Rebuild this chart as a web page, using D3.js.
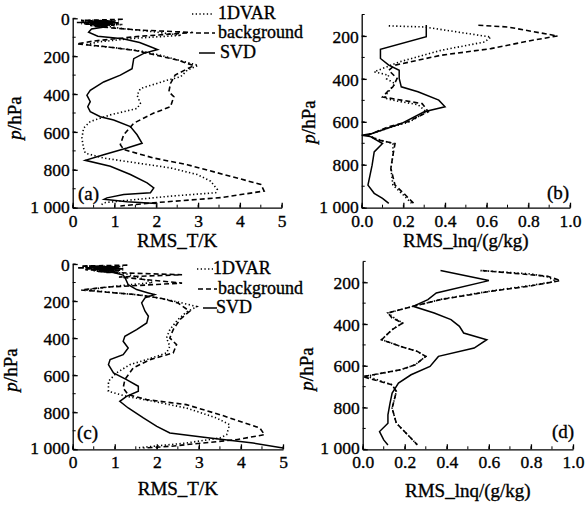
<!DOCTYPE html>
<html>
<head>
<meta charset="utf-8">
<script src="https://cdn.jsdelivr.net/npm/d3@7"></script>
<style>
	body { margin: 0; background: #fff; }
	svg { display: block; }
	text { font-family: "Liberation Serif", "Times New Roman", serif; fill: #000; stroke: #000; stroke-width: 0.35; }
	.tick line, .domain { stroke: #000; stroke-width: 1.3; }
</style>
</head>
<body>
<svg id="chart" width="586" height="505"></svg>
<script>
// ---- data: [pressure hPa, RMS] ----
var seriesNames = ["1DVAR", "background", "SVD"];

// (a) temperature RMS, case 1
var tempA_1dvar = [[10,0.2],[14,1.1],[19,0.3],[23,1.0],[28,0.2],[33,1.2],[38,0.4],[44,0.9],[55,1.2],[70,1.9],[90,2.6],[105,1.5],[125,0.6],[140,0.3],[155,1.0],[175,1.7],[195,2.1],[225,2.6],[248,3.0],[274,2.74],[309,2.58],[327,2.26],[371,1.62],[406,1.54],[449,1.62],[476,1.54],[510,0.9],[545,0.42],[580,0.26],[633,0.22],[685,0.26],[712,0.3],[738,0.74],[764,1.54],[790,2.34],[825,2.98],[860,3.3],[904,3.46],[921,3.42],[939,2.34],[956,1.54],[974,0.74],[990,0.66]];
var tempA_background = [[5,1.2],[12,0.2],[17,1.0],[22,0.1],[27,1.1],[31,0.3],[36,1.0],[42,0.5],[50,0.9],[62,1.6],[75,2.88],[95,1.6],[120,0.5],[135,0.1],[150,0.8],[170,1.5],[190,1.9],[220,2.5],[250,2.9],[267,2.74],[300,2.45],[344,2.34],[388,2.3],[414,2.42],[467,2.34],[500,1.94],[554,1.46],[615,1.22],[667,1.14],[693,1.22],[738,1.94],[773,2.74],[825,3.62],[877,4.5],[912,4.58],[947,3.54],[974,1.94],[991,1.14]];
var tempA_svd = [[12,0.5],[16,1.0],[20,0.3],[24,1.1],[28,0.4],[33,0.9],[38,0.5],[45,0.8],[56,0.45],[73,0.38],[95,0.6],[108,1.2],[128,1.6],[150,1.86],[165,2.03],[185,1.7],[213,1.46],[266,1.42],[300,1.14],[336,0.74],[380,0.42],[406,0.34],[440,0.42],[467,0.36],[493,0.42],[520,0.66],[537,0.98],[572,1.38],[615,1.54],[660,1.66],[685,1.3],[720,0.74],[750,0.3],[781,0.9],[825,1.38],[869,1.78],[895,1.94],[921,1.86],[930,1.22],[948,0.82],[956,0.75],[968,1.3],[978,2.0]];

// (b) humidity RMS, case 1
var humB_1dvar = [[153,0.13],[158,0.30],[205,0.62],[228,0.59],[267,0.38],[321,0.18],[367,0.06],[383,0.13],[400,0.12],[422,0.16],[445,0.14],[470,0.12],[490,0.11],[505,0.18],[520,0.27],[553,0.31],[600,0.23],[625,0.14],[654,0.05],[662,0.02],[685,0.09],[701,0.15],[755,0.15],[817,0.14],[895,0.15],[941,0.20],[980,0.24]];
var humB_background = [[150,0.56],[158,0.70],[200,0.94],[220,0.82],[259,0.62],[290,0.38],[336,0.16],[360,0.13],[398,0.17],[437,0.15],[453,0.13],[484,0.10],[499,0.19],[515,0.29],[553,0.32],[600,0.22],[623,0.13],[654,0.05],[662,0.03],[685,0.08],[701,0.16],[755,0.15],[817,0.14],[895,0.16],[941,0.21],[980,0.25]];
var humB_svd = [[149,0.31],[203,0.31],[262,0.09],[305,0.09],[336,0.13],[360,0.18],[398,0.18],[437,0.19],[460,0.27],[499,0.37],[530,0.40],[553,0.30],[608,0.19],[654,0.05],[662,0.0],[668,0.04],[701,0.10],[740,0.06],[802,0.05],[848,0.04],[895,0.03],[933,0.06],[957,0.10],[980,0.13]];

// (c) temperature RMS, case 2
var tempC_1dvar = [[10,0.3],[14,1.2],[18,0.2],[23,1.1],[28,0.3],[33,1.2],[38,0.5],[44,1.0],[55,1.3],[75,1.6],[100,1.9],[120,1.0],[140,0.3],[155,1.0],[170,1.7],[190,2.2],[210,2.6],[230,2.95],[260,2.7],[300,2.5],[354,2.31],[399,2.23],[444,2.31],[480,2.23],[516,1.76],[543,1.36],[588,1.04],[633,0.85],[687,0.85],[714,1.28],[741,1.91],[777,2.7],[831,3.42],[867,3.73],[921,3.66],[939,3.5],[966,2.7],[984,1.91],[993,1.52]];
var tempC_background = [[6,1.3],[11,0.2],[16,1.1],[21,0.1],[26,1.2],[31,0.3],[37,1.1],[45,0.8],[58,2.6],[70,1.1],[103,2.6],[125,0.8],[140,0.2],[150,0.7],[165,1.5],[185,2.1],[210,2.5],[255,2.78],[300,2.55],[354,2.39],[399,2.31],[435,2.47],[480,2.39],[516,1.84],[561,1.44],[624,1.24],[669,1.2],[705,1.32],[732,1.76],[759,2.7],[813,3.5],[885,4.45],[921,4.56],[948,3.89],[966,3.1],[984,2.31],[993,1.68]];
var tempC_svd = [[12,0.4],[16,1.1],[20,0.3],[25,1.2],[30,0.5],[35,1.0],[40,0.6],[46,0.97],[60,1.2],[76,1.25],[112,1.32],[138,1.52],[156,1.8],[165,1.95],[183,1.72],[210,1.64],[255,1.72],[282,1.8],[318,1.76],[354,1.52],[390,1.24],[417,1.2],[453,1.32],[489,1.2],[516,0.89],[543,0.85],[588,0.97],[624,1.28],[660,1.56],[687,1.56],[714,1.28],[741,1.12],[777,1.32],[831,1.68],[876,2.0],[912,2.31],[939,3.26],[966,4.29],[993,5.0]];

// (d) humidity RMS, case 2
var humD_1dvar = [[144,0.56],[160,0.80],[175,0.88],[195,0.92],[215,0.80],[240,0.62],[280,0.38],[315,0.24],[347,0.12],[371,0.15],[395,0.19],[427,0.14],[475,0.09],[507,0.18],[531,0.26],[555,0.30],[595,0.25],[619,0.18],[650,0.02],[691,0.14],[723,0.16],[803,0.14],[875,0.16],[947,0.23],[979,0.26]];
var humD_background = [[144,0.57],[171,0.88],[192,0.94],[219,0.79],[243,0.61],[283,0.37],[315,0.24],[347,0.12],[371,0.14],[395,0.19],[427,0.14],[475,0.09],[507,0.18],[531,0.26],[555,0.30],[595,0.25],[619,0.18],[652,0.0],[691,0.14],[723,0.16],[803,0.14],[875,0.16],[947,0.23],[979,0.26]];
var humD_svd = [[144,0.37],[192,0.60],[251,0.35],[283,0.31],[315,0.24],[347,0.34],[379,0.42],[411,0.46],[443,0.48],[475,0.59],[515,0.53],[555,0.36],[603,0.32],[643,0.23],[683,0.17],[731,0.14],[779,0.13],[835,0.12],[875,0.12],[915,0.08],[955,0.10],[979,0.12]];

// axis ticks
var pTicksFull = [0, 200, 400, 600, 800, 1000];
var pTicksUpper = [200, 400, 600, 800, 1000];
var tTicks = [0, 1, 2, 3, 4, 5];
var qTicks = [0, 0.2, 0.4, 0.6, 0.8, 1.0];

// line style per series (dotted / dashed / solid)
var dashFor = { "1DVAR": "1.3,2.4", "background": "5,3", "SVD": null };

var svg = d3.select("#chart");

/**
 * Draw one profile panel.
 * @param {object} cfg box, domains, ticks, series, labels
 */
function drawPanel(cfg) {
	var x = d3.scaleLinear().domain(cfg.xDomain).range([cfg.left, cfg.right]);
	var y = d3.scaleLinear().domain(cfg.pDomain).range([cfg.top, cfg.bottom]);
	var g = svg.append("g");

	// minor ticks first so the major ones sit over them
	var xMinor = d3.range(cfg.xDomain[0], cfg.xDomain[1] + 1e-9, cfg.xMinorStep);
	var pMinor = d3.range(cfg.pDomain[0], cfg.pDomain[1] + 1, 100);
	g.selectAll("line.xm").data(xMinor).enter().append("line")
		.attr("x1", function (d) { return x(d); }).attr("x2", function (d) { return x(d); })
		.attr("y1", cfg.bottom).attr("y2", cfg.bottom - 3)
		.attr("stroke", "#000").attr("stroke-width", 1);
	g.selectAll("line.pm").data(pMinor).enter().append("line")
		.attr("x1", cfg.left).attr("x2", cfg.left + 3)
		.attr("y1", function (d) { return y(d); }).attr("y2", function (d) { return y(d); })
		.attr("stroke", "#000").attr("stroke-width", 1);

	var xAxis = d3.axisBottom(x).tickValues(cfg.xTicks).tickSizeInner(-5).tickSizeOuter(0).tickPadding(6)
		.tickFormat(cfg.xFormat);
	var yAxis = d3.axisLeft(y).tickValues(cfg.pTicks).tickSizeInner(-5).tickSizeOuter(0).tickPadding(3)
		.tickFormat(function (d) { return d === 1000 ? "1 000" : d; });

	g.append("g").attr("transform", "translate(0," + cfg.bottom + ")").call(xAxis)
		.selectAll("text").style("font-size", "17.5px").attr("dy", "0.75em");
	g.append("g").attr("transform", "translate(" + cfg.left + ",0)").call(yAxis)
		.selectAll("text").style("font-size", "17.5px")
		.attr("dy", function (d) { return d === 1000 ? "0.25em" : "0.35em"; });
	g.selectAll(".domain").attr("stroke-width", 1.4);

	var line = d3.line()
		.x(function (d) { return x(d[1]); })
		.y(function (d) { return y(d[0]); });

	cfg.series.forEach(function (s, i) {
		g.append("path")
			.datum(s)
			.attr("d", line)
			.attr("fill", "none")
			.attr("stroke", "#000")
			.attr("stroke-width", seriesNames[i] === "SVD" ? 1.5 : 1.6)
			.attr("stroke-dasharray", dashFor[seriesNames[i]]);
	});

	// axis titles
	g.append("text")
		.attr("x", (cfg.left + cfg.right) / 2)
		.attr("y", cfg.xLabelY)
		.attr("text-anchor", "middle")
		.style("font-size", "19px")
		.text(cfg.xLabel);

	var yl = g.append("text")
		.attr("transform", "translate(" + cfg.yLabelX + "," + cfg.yLabelY + ") rotate(-90)")
		.attr("text-anchor", "middle")
		.style("font-size", "19px");
	yl.append("tspan").style("font-style", "italic").text("p");
	yl.append("tspan").text("/hPa");

	g.append("text")
		.attr("x", cfg.tagX).attr("y", cfg.tagY)
		.style("font-size", "19px")
		.text(cfg.tag);

	// legend
	if (cfg.legend) {
		cfg.legend.forEach(function (L, i) {
			g.append("line")
				.attr("x1", L.x1).attr("x2", L.x2)
				.attr("y1", L.y - 5).attr("y2", L.y - 5)
				.attr("stroke", "#000").attr("stroke-width", 1.5)
				.attr("stroke-dasharray", dashFor[seriesNames[i]]);
			g.append("text")
				.attr("x", L.tx).attr("y", L.y)
				.style("font-size", "18px")
				.text(seriesNames[i]);
		});
	}
}

var fmtInt = d3.format("d");
var fmtOne = d3.format(".1f");

drawPanel({
	left: 72.7, right: 281.7, top: 18.3, bottom: 207.7,
	xDomain: [0, 5], pDomain: [0, 1000], xTicks: tTicks, pTicks: pTicksFull, xMinorStep: 0.5,
	xFormat: fmtInt, series: [tempA_1dvar, tempA_background, tempA_svd],
	xLabel: "RMS_T/K", xLabelY: 247, yLabelX: 21, yLabelY: 118,
	tag: "(a)", tagX: 78, tagY: 200,
	legend: [
		{ x1: 192, x2: 212, tx: 218, y: 19 },
		{ x1: 196, x2: 215, tx: 218, y: 38 },
		{ x1: 199, x2: 215, tx: 220, y: 58 }
	]
});

drawPanel({
	left: 361.7, right: 570, top: 14.5, bottom: 207.7,
	xDomain: [0, 1], pDomain: [100, 1000], xTicks: qTicks, pTicks: pTicksUpper, xMinorStep: 0.1,
	xFormat: fmtOne, series: [humB_1dvar, humB_background, humB_svd],
	xLabel: "RMS_lnq/(g/kg)", xLabelY: 247, yLabelX: 315, yLabelY: 122,
	tag: "(b)", tagX: 547, tagY: 199
});

drawPanel({
	left: 72.7, right: 283, top: 264, bottom: 449.3,
	xDomain: [0, 5], pDomain: [0, 1000], xTicks: tTicks, pTicks: pTicksFull, xMinorStep: 0.5,
	xFormat: fmtInt, series: [tempC_1dvar, tempC_background, tempC_svd],
	xLabel: "RMS_T/K", xLabelY: 495, yLabelX: 17, yLabelY: 370,
	tag: "(c)", tagX: 77, tagY: 439,
	legend: [
		{ x1: 197, x2: 213, tx: 213, y: 274 },
		{ x1: 198, x2: 217, tx: 218, y: 294 },
		{ x1: 203, x2: 217, tx: 216, y: 313 }
	]
});

drawPanel({
	left: 362.7, right: 573, top: 261.4, bottom: 449.3,
	xDomain: [0, 1], pDomain: [100, 1000], xTicks: qTicks, pTicks: pTicksUpper, xMinorStep: 0.1,
	xFormat: fmtOne, series: [humD_1dvar, humD_background, humD_svd],
	xLabel: "RMS_lnq/(g/kg)", xLabelY: 497, yLabelX: 313, yLabelY: 369,
	tag: "(d)", tagX: 552, tagY: 438
});
</script>
</body>
</html>
